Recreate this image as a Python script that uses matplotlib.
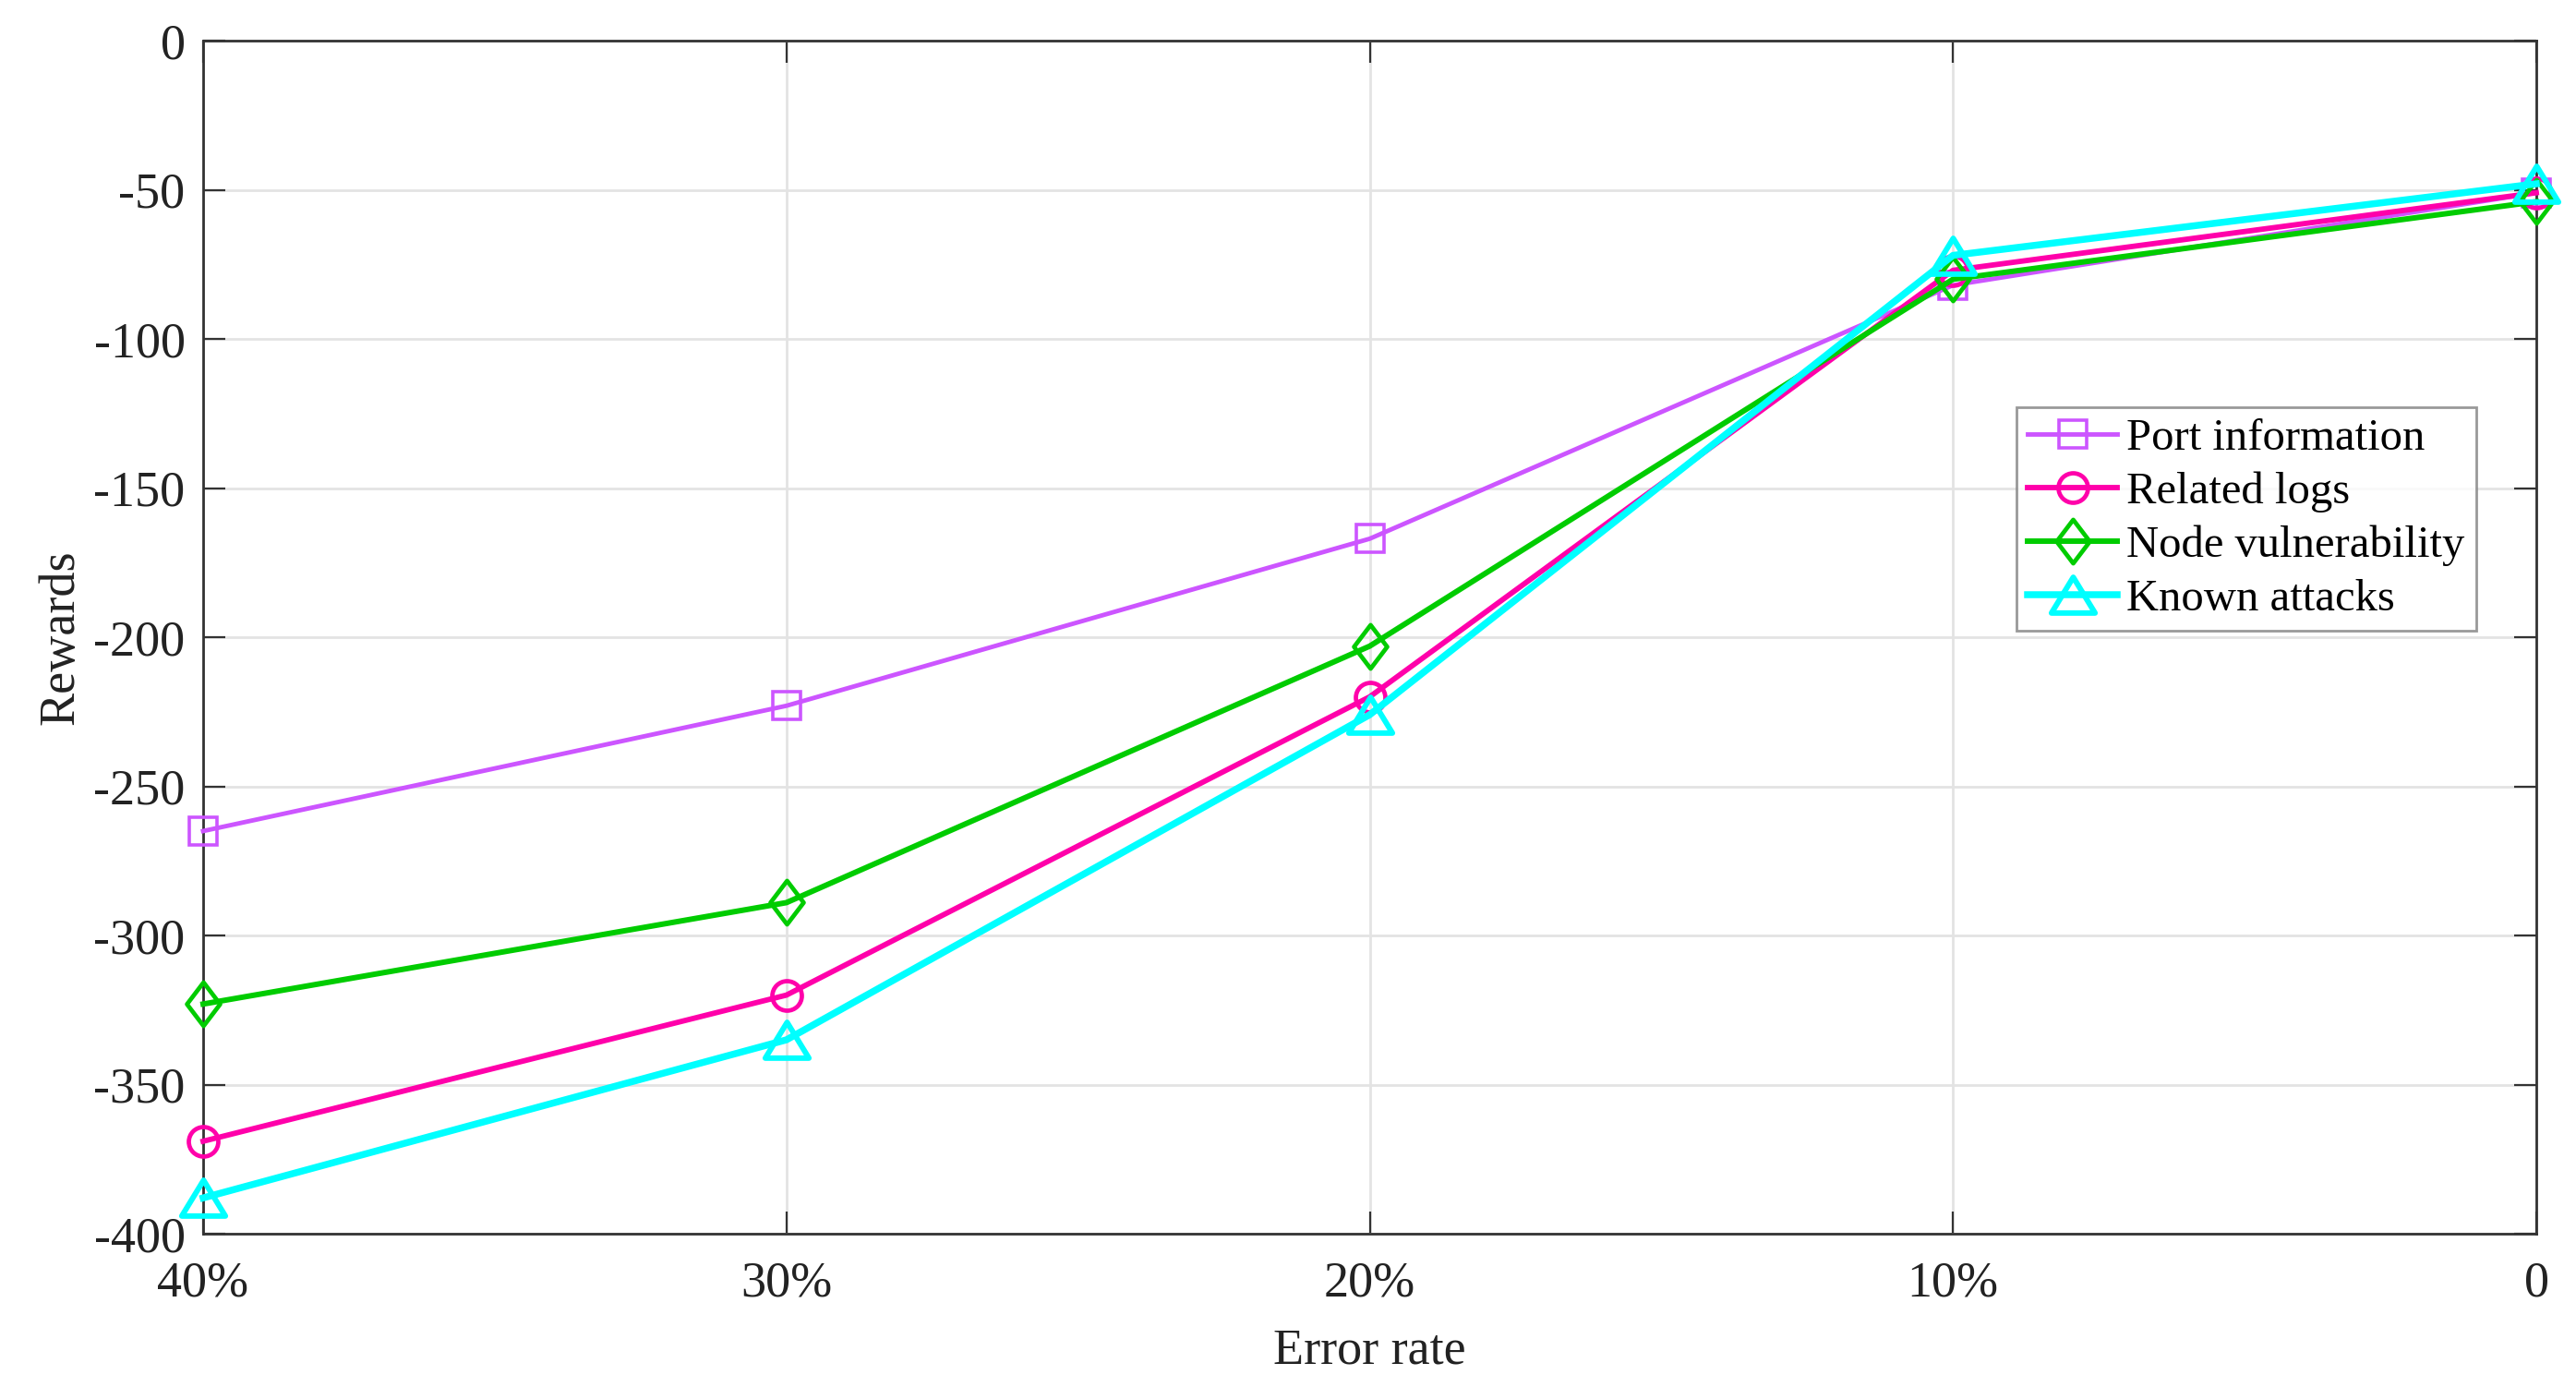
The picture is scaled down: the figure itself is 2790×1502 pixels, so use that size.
import matplotlib
matplotlib.use("Agg")
import matplotlib.pyplot as plt
from matplotlib.path import Path
import numpy as np

plt.rcParams['font.family'] = ['Liberation Serif', 'DejaVu Serif']

categories = ['40%', '30%', '20%', '10%', '0']
port_information = [-265, -223, -167, -82, -51]
related_logs = [-369, -320, -220, -77, -51]
node_vulnerability = [-323, -289, -203, -80, -54]
known_attacks = [-388, -335, -226, -72, -48]
series_names = ['Port information', 'Related logs', 'Node vulnerability', 'Known attacks']
yticks = [0, -50, -100, -150, -200, -250, -300, -350, -400]

diamond = Path([(0, 1), (0.76, 0), (0, -1), (-0.76, 0), (0, 1)],
               [Path.MOVETO, Path.LINETO, Path.LINETO, Path.LINETO, Path.CLOSEPOLY])
triangle = Path([(0, 0.82), (1, -0.82), (-1, -0.82), (0, 0.82)],
                [Path.MOVETO, Path.LINETO, Path.LINETO, Path.CLOSEPOLY])

styles = [
    dict(color='#CC55FF', marker='s', markersize=21, lw=3.5, mew=2.6),
    dict(color='#FF00AA', marker='o', markersize=23, lw=4.2, mew=3.4),
    dict(color='#00CC00', marker=diamond, markersize=34, lw=4.3, mew=3.4),
    dict(color='#00FFFF', marker=triangle, markersize=34, lw=5.4, mew=4.3),
]

fig = plt.figure(figsize=(27.9, 15.02), dpi=100)
ax = fig.add_axes([220/2790, 1-1336/1502, (2747-220)/2790, (1336-44)/1502])

x = np.arange(len(categories))
for data, name, st in zip([port_information, related_logs, node_vulnerability, known_attacks],
                          series_names, styles):
    ax.plot(x, data, color=st['color'], marker=st['marker'], markersize=st['markersize'],
            linewidth=st['lw'], markeredgewidth=st['mew'], markerfacecolor='none',
            markeredgecolor=st['color'], label=name, zorder=3, clip_on=False)

ax.set_xlim(0, len(categories)-1)
ax.set_ylim(-400, 0)
ax.set_xticks(x)
ax.set_xticklabels(categories)
ax.set_yticks(yticks)
ax.set_yticklabels([str(v) for v in yticks])

ax.grid(True, color='#e3e3e3', linewidth=2.0, zorder=0)
ax.set_axisbelow(True)
for s in ax.spines.values():
    s.set_color('#333333')
    s.set_linewidth(2.0)

ax.tick_params(axis='both', direction='in', length=17, width=1.6, color='#333333',
               labelsize=39, top=True, right=True, labelcolor='#222222')
ax.tick_params(axis='x', pad=21)
ax.tick_params(axis='y', pad=14)

ax.set_xlabel('Error rate', fontsize=39, color='#222222')
ax.set_ylabel('Rewards', fontsize=39, color='#222222')
ax.xaxis.set_label_coords(0.5, -0.079)
ax.yaxis.set_label_coords(-0.051, 0.5)

leg = ax.legend(loc='upper left', bbox_to_anchor=((2184-220)/2527, 1-(441-44)/1292),
                fontsize=35, frameon=True, fancybox=False, handlelength=2.0,
                handletextpad=0.2, borderpad=0.25, labelspacing=0.28, borderaxespad=0)
leg.get_frame().set_edgecolor('#808080')
leg.get_frame().set_linewidth(2.0)

fig.savefig('out.png', dpi=100, facecolor='white')
